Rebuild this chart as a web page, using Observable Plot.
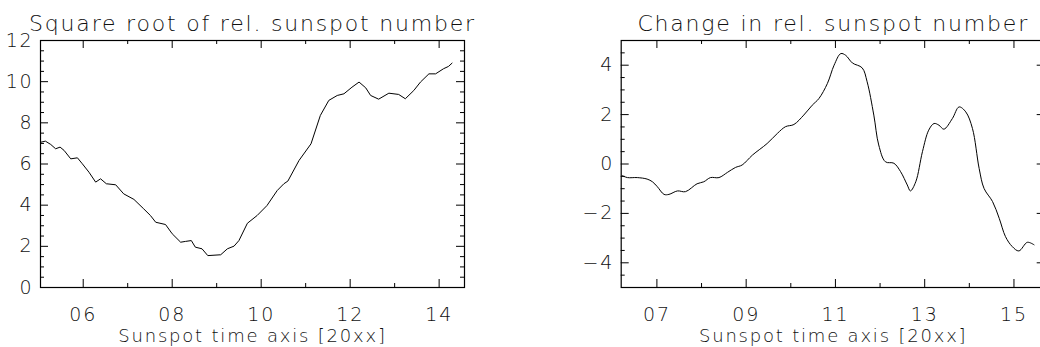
<!DOCTYPE html>
<html><head><meta charset="utf-8">
<script src="https://cdn.jsdelivr.net/npm/d3@7"></script>
<script src="https://cdn.jsdelivr.net/npm/@observablehq/plot@0.6"></script>
<style>
html,body{margin:0;padding:0;background:#fff;}
#wrap{position:relative;width:1040px;height:347px;overflow:hidden;background:#fff;}
#left,#right{position:absolute;top:0;}
#left{left:0;width:520px;} #right{left:580px;width:480px;}
#wrap svg{max-width:none !important;}
svg text{font-family:"DejaVu Sans",sans-serif;font-weight:200;letter-spacing:1.8px;}
svg text.ttl{letter-spacing:1.9px;}
svg text.xl{letter-spacing:1.3px;}
</style></head><body>
<div id="wrap"><div id="left"></div><div id="right"></div></div>
<script>
// Left panel: square root of relative sunspot number
const leftYears = [5.05,5.15,5.27,5.38,5.48,5.57,5.72,5.87,5.98,6.13,6.28,6.39,6.52,6.73,6.91,7.14,7.36,7.51,7.63,7.85,8.0,8.19,8.3,8.43,8.52,8.67,8.8,9.09,9.24,9.39,9.5,9.69,9.91,10.13,10.36,10.51,10.6,10.85,11.12,11.33,11.52,11.71,11.86,12.04,12.2,12.35,12.46,12.64,12.87,13.09,13.24,13.43,13.58,13.77,13.92,14.1,14.21,14.29];
const leftSqrt = [7.06,7.11,6.95,6.74,6.82,6.66,6.25,6.3,6.01,5.6,5.12,5.28,5.04,4.99,4.55,4.28,3.82,3.5,3.17,3.06,2.61,2.2,2.24,2.28,1.96,1.88,1.55,1.59,1.88,2.01,2.28,3.12,3.5,3.98,4.71,5.04,5.17,6.17,6.98,8.36,9.09,9.33,9.41,9.73,9.98,9.7,9.33,9.15,9.44,9.38,9.17,9.57,9.98,10.38,10.38,10.63,10.74,10.9];

// Right panel: change in relative sunspot number
const rightYears = [6.22,6.34,6.56,6.78,6.9,7.01,7.16,7.27,7.46,7.64,7.9,8.05,8.2,8.39,8.58,8.76,8.91,9.14,9.47,9.7,9.88,10.07,10.29,10.48,10.63,10.82,10.97,11.12,11.23,11.38,11.6,11.71,11.86,11.97,12.12,12.31,12.46,12.61,12.68,12.8,12.95,13.09,13.21,13.32,13.43,13.62,13.77,13.92,14.07,14.22,14.33,14.52,14.67,14.81,14.96,15.11,15.3,15.45];
const rightChange = [-0.47,-0.55,-0.55,-0.61,-0.72,-0.92,-1.23,-1.23,-1.09,-1.12,-0.8,-0.72,-0.55,-0.55,-0.34,-0.14,-0.04,0.36,0.83,1.24,1.51,1.6,1.98,2.38,2.65,3.26,4.0,4.47,4.4,4.09,3.89,3.33,1.98,0.77,0.09,0.03,-0.31,-0.85,-1.09,-0.72,0.5,1.37,1.64,1.57,1.41,1.84,2.31,2.11,1.44,-0.18,-0.99,-1.52,-2.2,-2.94,-3.34,-3.52,-3.17,-3.27];

// Tick labels
const leftXTicks = [6,8,10,12,14];
const leftXMinor = [7,9,11,13];
const leftYTicks = [0,2,4,6,8,10,12];
const rightXTicks = [7,9,11,13,15];
const rightXMinor = [8,10,12,14];
const rightYTicks = [-4,-2,0,2,4];

const leftTitle = "Square root of rel. sunspot number";
const rightTitle = "Change in rel. sunspot number";
const xLabel = "Sunspot time axis [20xx]";

function panel({xs, ys, xDomain, yDomain, xMajor, xMinor, yMajor, yMinor, title, curve, marginLeft, width}) {
  const data = xs.map((x, i) => ({x, y: ys[i]}));
  const fw = 424, fh = 247;
  return Plot.plot({
    width, height: 347,
    marginLeft, marginRight: width - marginLeft - fw, marginTop: 40, marginBottom: 60,
    x: {domain: xDomain},
    y: {domain: yDomain},
    style: {fontFamily: "'DejaVu Sans', sans-serif", fontSize: "19px", color: "#111", background: "white", overflow: "visible"},
    marks: [
      Plot.line(data, {x: "x", y: "y", curve, stroke: "#000", strokeWidth: 1}),
      Plot.ruleX(xMajor, {insetTop: fh - 8, stroke: "#000"}),
      Plot.ruleX(xMajor, {insetBottom: fh - 8, stroke: "#000"}),
      Plot.ruleX(xMinor, {insetTop: fh - 4, stroke: "#000"}),
      Plot.ruleX(xMinor, {insetBottom: fh - 4, stroke: "#000"}),
      Plot.ruleY(yMajor, {insetRight: fw - 8, stroke: "#000"}),
      Plot.ruleY(yMajor, {insetLeft: fw - 8, stroke: "#000"}),
      Plot.ruleY(yMinor, {insetRight: fw - 4, stroke: "#000"}),
      Plot.ruleY(yMinor, {insetLeft: fw - 4, stroke: "#000"}),
      Plot.frame({stroke: "#000", strokeWidth: 1.2}),
      Plot.axisX(xMajor, {tickSize: 0, tickPadding: 20, tickFormat: d3.format("02d"), label: null}),
      Plot.axisY(yMajor, {tickSize: 0, tickPadding: 7, label: null}),
      Plot.text([title], {frameAnchor: "top", dy: -25, fontSize: 22, fill: "#111", className: "ttl"}),
      Plot.text([xLabel], {frameAnchor: "bottom", dy: 54, fontSize: 18, fill: "#111", className: "xl"})
    ]
  });
}

const minorY = (lo, hi, majors) => d3.range(lo, hi + 0.001, 0.5).filter(v => !majors.includes(v));

document.getElementById("left").append(panel({
  xs: leftYears, ys: leftSqrt, xDomain: [5.04, 14.57], yDomain: [0, 12],
  xMajor: leftXTicks, xMinor: leftXMinor, yMajor: leftYTicks, yMinor: minorY(0.5, 11.5, leftYTicks),
  title: leftTitle, curve: "linear", marginLeft: 40, width: 520
}));
document.getElementById("right").append(panel({
  xs: rightYears, ys: rightChange, xDomain: [6.2, 15.7], yDomain: [-5, 5],
  xMajor: rightXTicks, xMinor: rightXMinor, yMajor: rightYTicks, yMinor: minorY(-4.5, 4.5, rightYTicks),
  title: rightTitle, curve: "catmull-rom", marginLeft: 40.7, width: 480
}));
</script>
</body></html>
